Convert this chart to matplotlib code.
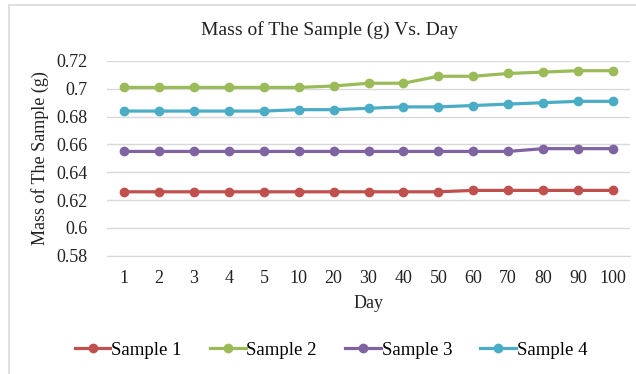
import matplotlib
matplotlib.use("Agg")
from matplotlib import pyplot as plt
from matplotlib.patches import Rectangle

days = ["1", "2", "3", "4", "5", "10", "20", "30", "40", "50", "60", "70", "80", "90", "100"]
sample_1 = [0.626, 0.626, 0.626, 0.626, 0.626, 0.626, 0.626, 0.626, 0.626, 0.626,
            0.627, 0.627, 0.627, 0.627, 0.627]
sample_2 = [0.701, 0.701, 0.701, 0.701, 0.701, 0.701, 0.702, 0.704, 0.704, 0.709,
            0.709, 0.711, 0.712, 0.713, 0.713]
sample_3 = [0.655, 0.655, 0.655, 0.655, 0.655, 0.655, 0.655, 0.655, 0.655, 0.655,
            0.655, 0.655, 0.657, 0.657, 0.657]
sample_4 = [0.684, 0.684, 0.684, 0.684, 0.684, 0.685, 0.685, 0.686, 0.687, 0.687,
            0.688, 0.689, 0.690, 0.691, 0.691]
y_ticks = [0.58, 0.6, 0.62, 0.64, 0.66, 0.68, 0.7, 0.72]
y_tick_labels = ["0.58", "0.6", "0.62", "0.64", "0.66", "0.68", "0.7", "0.72"]

series = [
    ("Sample 1", sample_1, "#C0504D"),
    ("Sample 2", sample_2, "#9BBB59"),
    ("Sample 3", sample_3, "#8064A2"),
    ("Sample 4", sample_4, "#4BACC6"),
]

plt.rcParams["font.family"] = ["Liberation Serif", "DejaVu Serif"]
plt.rcParams["font.size"] = 13

fig = plt.figure(figsize=(6.36, 3.74), dpi=100)
ax = fig.add_axes([0.168, 0.316, 0.823, 0.521])

x = list(range(len(days)))
for name, values, color in series:
    ax.plot(x, values, "-o", color=color, lw=2.3, markersize=6, label=name)

ax.set_xlim(-0.5, len(days) - 0.5)
ax.set_ylim(0.58, 0.72)
ax.set_yticks(y_ticks)
ax.set_yticklabels(y_tick_labels)
ax.set_xticks(x)
ax.set_xticklabels(days)
ax.tick_params(length=0, colors="#222222")
ax.tick_params(axis="y", pad=14)
ax.tick_params(axis="x", pad=10)
ax.grid(axis="y", color="#D9D9D9", lw=1)
ax.set_axisbelow(True)
for side in ["top", "right", "left"]:
    ax.spines[side].set_visible(False)
ax.spines["bottom"].set_color("#D9D9D9")

fig.text(330 / 636, 1 - 30 / 374, "Mass of The Sample (g) Vs. Day", fontsize=14,
         ha="center", va="center", color="#222222")
ax.set_xlabel("Day", labelpad=6, color="#222222")
ax.set_ylabel("Mass of The Sample (g)", labelpad=5, color="#222222")

fig.legend(loc="center", bbox_to_anchor=(331 / 636, 0.064), ncol=4, frameon=False,
           handlelength=1.9, columnspacing=1.5, handletextpad=0.05, fontsize=13.5)

# chart border
fig.patches.append(Rectangle((9 / 636, -0.1), 1.2, 1 - 5 / 374 + 0.1, transform=fig.transFigure,
                             fill=False, edgecolor="#D9D9D9", lw=1.2))

fig.savefig("out.png", dpi=100)
